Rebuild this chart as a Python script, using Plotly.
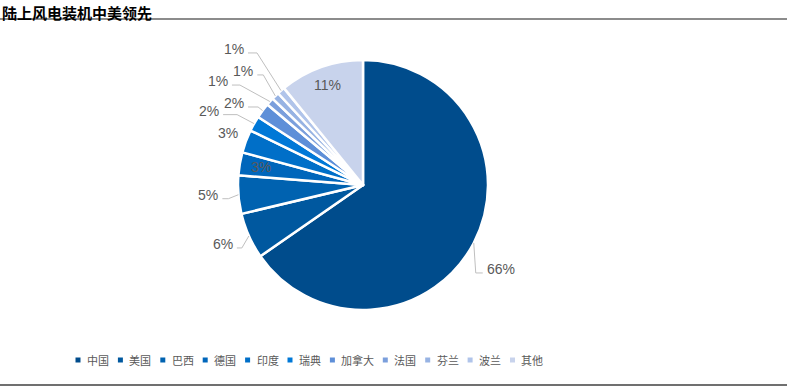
import math
import plotly.graph_objects as go

# ---------------- data ----------------
categories = ["中国", "美国", "巴西", "德国", "印度", "瑞典", "加拿大", "法国", "芬兰", "波兰", "其他"]
values = [66, 6, 5, 3, 3, 2, 2, 1, 1, 1, 11]
title = "陆上风电装机中美领先"

# ---------------- styles / layout ----------------
colors = ["#004C8C", "#00589F", "#0062B0", "#0066BB", "#006FC8", "#0078D7",
          "#5E8FD8", "#7B9FDC", "#97B3E3", "#B0C4EA", "#C8D3EC"]
W, H = 787, 387
cx, cy, r = 363, 185, 125          # pie centre / radius in pixels
# per-slice label layout: ("in", radius factor) or ("out", corner dx, corner dy, segment dx)
label_layout = [
    ("out", 2, 30, 7),
    ("out", -7, 12, -5),
    ("out", -10, 4, -6),
    ("in", 0.83),
    ("out", -4, -4, 0),
    ("out", -17, -9, -14),
    ("out", -4.5, -3.6, -10),
    ("out", -30, -16.5, -8),
    ("out", -12, -21, -6),
    ("out", -24, -37.7, -9),
    ("in", 0.85),
]
label_font = dict(family="Liberation Sans, Arial", size=14, color="#595959")
line_color = "#BFBFBF"


def px(x):
    return x / W


def py(y):
    return 1 - y / H


fig = go.Figure(go.Pie(
    labels=categories,
    values=values,
    sort=False,
    direction="clockwise",
    rotation=0,
    marker=dict(colors=colors, line=dict(color="white", width=2.5)),
    textinfo="none",
    domain=dict(x=[px(cx - r), px(cx + r)], y=[py(cy + r), py(cy - r)]),
    hoverinfo="label+value",
    showlegend=False,
))

annotations = []
shapes = []

# slice labels + leader lines computed from the data angles
total = sum(values)
cum = 0
for v, lay in zip(values, label_layout):
    mid = (cum + v / 2) / total * 2 * math.pi
    cum += v
    s, c = math.sin(mid), math.cos(mid)
    text = f"{v}%"
    if lay[0] == "in":
        rr = lay[1] * r
        annotations.append(dict(
            text=text, x=px(cx + rr * s), y=py(cy - rr * c), xref="paper", yref="paper",
            showarrow=False, xanchor="center", yanchor="middle", font=label_font))
        continue
    _, cdx, cdy, sdx = lay
    ex, ey = cx + r * s, cy - r * c
    kx, ky = ex + cdx, ey + cdy
    sx = kx + sdx
    if sdx != 0:
        shapes.append(dict(
            type="path", xref="paper", yref="paper",
            path=f"M {px(ex)} {py(ey)} L {px(kx)} {py(ky)} L {px(sx)} {py(ky)}",
            line=dict(color=line_color, width=1)))
    right_side = (sdx > 0)
    annotations.append(dict(
        text=text, x=px(sx + (2 if right_side else -2)), y=py(ky - 4),
        xref="paper", yref="paper", showarrow=False,
        xanchor="left" if right_side else "right", yanchor="middle", font=label_font))

# custom legend
leg_x, leg_y = 78, 360
leg_font = dict(family="Noto Sans CJK SC", size=11, color="#595959")
x = leg_x
for cat, col in zip(categories, colors):
    shapes.append(dict(type="rect", xref="paper", yref="paper",
                       x0=px(x - 2.5), x1=px(x + 2.5), y0=py(leg_y + 2.5), y1=py(leg_y - 2.5),
                       fillcolor=col, line=dict(width=0)))
    annotations.append(dict(text=cat, x=px(x + 7), y=py(leg_y), xref="paper", yref="paper",
                            showarrow=False, xanchor="left", yanchor="middle", font=leg_font))
    x += 7 + 10.5 * len(cat) + 14.4

# title & rules
annotations.append(dict(
    text=f"<b>{title}</b>", xref="paper", yref="paper",
    x=px(1), y=py(0.5), xanchor="left", yanchor="top", showarrow=False, borderpad=0,
    font=dict(family="Noto Sans CJK SC", size=15, color="black")))
shapes.append(dict(type="line", xref="paper", yref="paper", x0=0, x1=1,
                   y0=py(19), y1=py(19), line=dict(color="#8C8C8C", width=2)))
shapes.append(dict(type="line", xref="paper", yref="paper", x0=0, x1=1,
                   y0=py(385), y1=py(385), line=dict(color="#404040", width=1.5)))

fig.update_layout(
    width=W, height=H,
    margin=dict(l=0, r=0, t=0, b=0),
    paper_bgcolor="white",
    plot_bgcolor="white",
    showlegend=False,
    annotations=annotations,
    shapes=shapes,
)

fig.write_html("out.html",
               config={"displayModeBar": False},
               post_script="document.body.style.margin='0px';document.body.style.overflow='hidden';")
